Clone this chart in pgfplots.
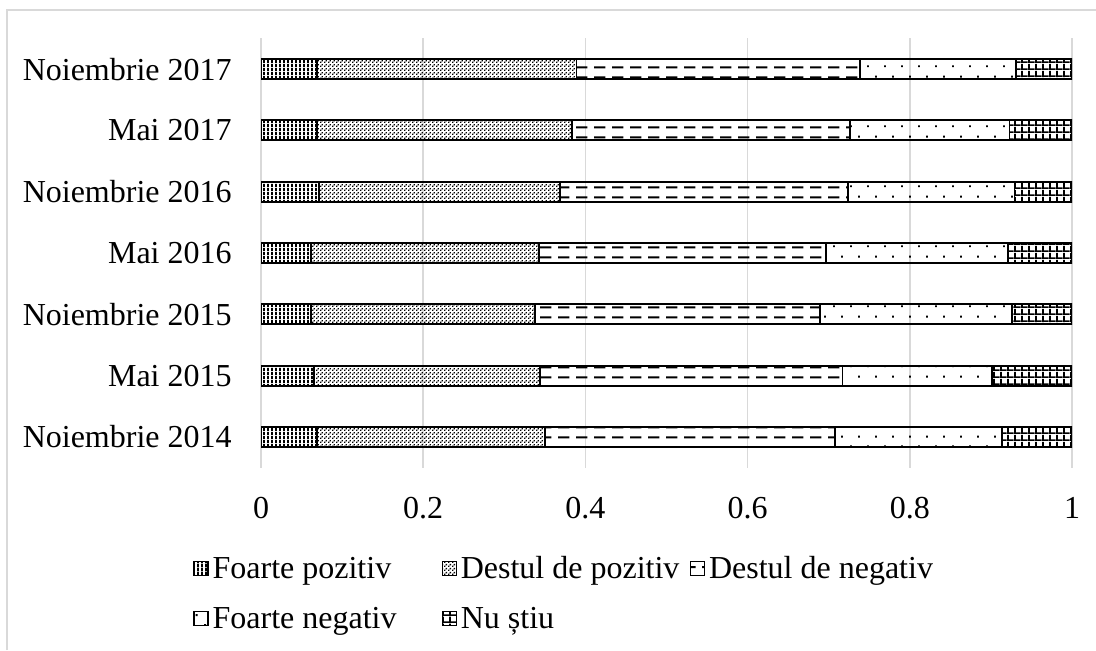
\documentclass[border=0pt]{standalone}
\usepackage{fontspec}
\setmainfont{Liberation Serif}
\usepackage{pgfplots}
\pgfplotsset{compat=1.18}
\usepackage{pgfplotstable}
\usetikzlibrary{patterns}

% patterns, sizes in pt (1 px of the reference = 0.5pt)
\pgfdeclarepatternformonly{vstripes}{\pgfqpoint{0pt}{0pt}}{\pgfqpoint{2.2pt}{2pt}}{\pgfqpoint{2.2pt}{2pt}}{%
  \pgfpathrectangle{\pgfqpoint{0pt}{0pt}}{\pgfqpoint{1.1pt}{2pt}}\pgfusepath{fill}}
\pgfdeclarepatternformonly{finedots}{\pgfqpoint{0pt}{0pt}}{\pgfqpoint{2pt}{2pt}}{\pgfqpoint{2pt}{2pt}}{%
  \pgfpathrectangle{\pgfqpoint{0pt}{0pt}}{\pgfqpoint{0.8pt}{0.8pt}}%
  \pgfpathrectangle{\pgfqpoint{1pt}{1pt}}{\pgfqpoint{0.8pt}{0.8pt}}\pgfusepath{fill}}
\pgfdeclarepatternformonly{hdashes}{\pgfqpoint{0pt}{0pt}}{\pgfqpoint{9pt}{5pt}}{\pgfqpoint{9pt}{5pt}}{%
  \pgfpathrectangle{\pgfqpoint{0pt}{1.5pt}}{\pgfqpoint{6pt}{1pt}}\pgfusepath{fill}}
\pgfdeclarepatternformonly{sparsedots}{\pgfqpoint{0pt}{0pt}}{\pgfqpoint{8.5pt}{10pt}}{\pgfqpoint{8.5pt}{10pt}}{%
  \pgfpathrectangle{\pgfqpoint{0pt}{2pt}}{\pgfqpoint{1pt}{1pt}}%
  \pgfpathrectangle{\pgfqpoint{4.25pt}{7pt}}{\pgfqpoint{1pt}{1pt}}\pgfusepath{fill}}
\pgfdeclarepatternformonly{gridpat}{\pgfqpoint{0pt}{0pt}}{\pgfqpoint{3.4pt}{3.5pt}}{\pgfqpoint{3.4pt}{3.5pt}}{%
  \pgfpathrectangle{\pgfqpoint{0pt}{0pt}}{\pgfqpoint{0.9pt}{3.5pt}}%
  \pgfpathrectangle{\pgfqpoint{0pt}{0pt}}{\pgfqpoint{3.4pt}{0.9pt}}\pgfusepath{fill}}

\definecolor{gridgray}{HTML}{D9D9D9}

% y: 0 = Noiembrie 2014 ... 6 = Noiembrie 2017
\pgfplotstableread{
y  fp    dp    dn    fn    ns
0  0.069 0.281 0.358 0.206 0.086
1  0.065 0.279 0.373 0.184 0.099
2  0.062 0.276 0.351 0.237 0.074
3  0.062 0.281 0.354 0.224 0.079
4  0.072 0.297 0.355 0.205 0.071
5  0.069 0.314 0.343 0.197 0.077
6  0.069 0.320 0.350 0.192 0.069
}\opinion

\newcommand{\lbl}[1]{\makebox[114.5pt][l]{#1}}

\begin{document}
\begin{tikzpicture}
\useasboundingbox (0pt,0pt) rectangle (548pt,-325pt);
\draw[gridgray, line width=0.75pt] (3.5pt,-325pt) -- (3.5pt,-5pt) -- (548pt,-5pt);
\begin{axis}[
  at={(130.5pt,-233.8pt)}, anchor=south west,
  scale only axis, width=405.5pt, height=214.6pt,
  xbar stacked, bar width=10pt,
  xmin=0, xmax=1, ymin=-0.5, ymax=6.5,
  xtick={0,0.2,0.4,0.6,0.8,1},
  ytick={0,...,6},
  yticklabels={Noiembrie 2014,Mai 2015,Noiembrie 2015,Mai 2016,Noiembrie 2016,Mai 2017,Noiembrie 2017},
  /pgf/number format/assume math mode=true,
  xmajorgrids, grid style={gridgray, line width=0.75pt},
  axis line style={draw=none}, major tick style={draw=none},
  every tick label/.append style={font=\fontsize{16pt}{19pt}\selectfont},
  yticklabel style={inner sep=0pt, anchor=east, xshift=-14.5pt},
  xticklabel style={inner sep=0pt, anchor=north, yshift=-14.7pt},
  legend columns=3,
  legend style={draw=none, fill=none, inner sep=0pt,
    at={(axis description cs:-0.0838,-0.2071)}, anchor=north west,
    font=\fontsize{16pt}{19pt}\selectfont,
    nodes={inner sep=0pt, text height=11pt, text depth=3.5pt},
    row sep=10.5pt,
    /tikz/every odd column/.append style={column sep=2pt}},
  legend cell align=left,
  legend image code/.code={\draw[#1, line width=0.6pt] (0pt,-2.2pt) rectangle (7pt,4.8pt);},
  every axis plot/.append style={draw=black, line width=0.9pt},
]
\addplot[pattern=vstripes] table[x=fp, y=y] {\opinion};
\addlegendentry{\lbl{Foarte pozitiv}}
\addplot[pattern=finedots] table[x=dp, y=y] {\opinion};
\addlegendentry{\lbl{Destul de pozitiv}}
\addplot[pattern=hdashes] table[x=dn, y=y] {\opinion};
\addlegendentry{\lbl{Destul de negativ}}
\addplot[pattern=sparsedots] table[x=fn, y=y] {\opinion};
\addlegendentry{\lbl{Foarte negativ}}
\addplot[pattern=gridpat] table[x=ns, y=y] {\opinion};
\addlegendentry{\lbl{Nu știu}}
\end{axis}
\end{tikzpicture}
\end{document}
